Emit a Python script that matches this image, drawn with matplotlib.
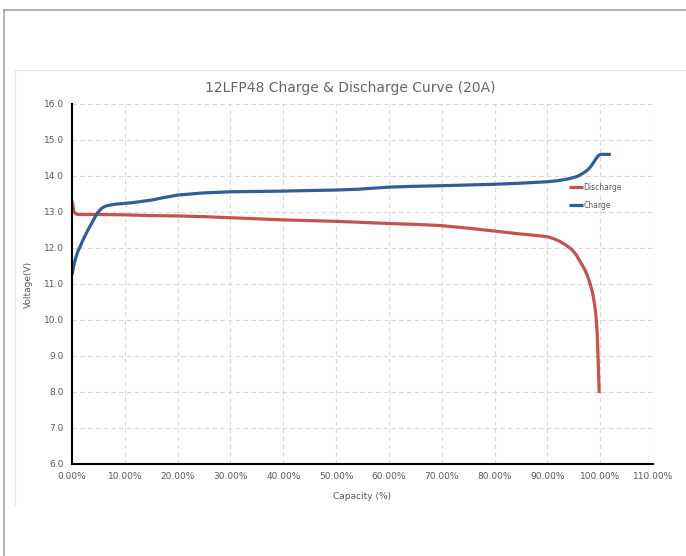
import matplotlib.pyplot as plt
from matplotlib.lines import Line2D
from matplotlib.ticker import FuncFormatter

# capacity (fraction) / voltage
charge_cap = [0.0, 0.003, 0.007, 0.011, 0.015, 0.02, 0.025, 0.03, 0.035, 0.04, 0.047,
              0.053, 0.058, 0.063, 0.068, 0.075, 0.085, 0.10, 0.115, 0.13, 0.15, 0.17,
              0.20, 0.25, 0.30, 0.40, 0.50, 0.54, 0.57, 0.60, 0.64, 0.70, 0.80, 0.85,
              0.90, 0.92, 0.94, 0.955, 0.962, 0.97, 0.977, 0.983, 0.987, 0.992, 0.996,
              0.999, 1.002, 1.02]
charge_v = [11.25, 11.5, 11.72, 11.9, 12.03, 12.2, 12.35, 12.5, 12.63, 12.76, 12.95,
            13.06, 13.12, 13.16, 13.18, 13.2, 13.22, 13.24, 13.26, 13.29, 13.33, 13.39,
            13.47, 13.53, 13.56, 13.58, 13.61, 13.63, 13.66, 13.69, 13.71, 13.73, 13.77, 13.8,
            13.84, 13.87, 13.92, 13.98, 14.03, 14.1, 14.18, 14.28, 14.37, 14.48, 14.56,
            14.59, 14.6, 14.6]

discharge_cap = [0.0, 0.001, 0.002, 0.003, 0.004, 0.006, 0.009, 0.013, 0.02, 0.05, 0.10,
                 0.15, 0.20, 0.25, 0.30, 0.40, 0.50, 0.60, 0.66, 0.70, 0.75, 0.80, 0.83,
                 0.848, 0.87, 0.89, 0.90, 0.91, 0.924, 0.935, 0.946, 0.955, 0.962, 0.97,
                 0.976, 0.981, 0.985, 0.988, 0.99, 0.992, 0.994, 0.995, 0.996, 0.997,
                 0.998]
discharge_v = [13.3, 13.25, 13.15, 13.06, 13.0, 12.96, 12.94, 12.93, 12.93, 12.93, 12.92,
               12.9, 12.89, 12.87, 12.84, 12.78, 12.74, 12.68, 12.65, 12.62, 12.55, 12.47,
               12.42, 12.39, 12.36, 12.33, 12.31, 12.27, 12.18, 12.08, 11.96, 11.8, 11.62,
               11.42, 11.22, 11.0, 10.78, 10.55, 10.35, 10.1, 9.7, 9.3, 8.9, 8.4, 7.97]

x_ticks = [0.0, 0.1, 0.2, 0.3, 0.4, 0.5, 0.6, 0.7, 0.8, 0.9, 1.0, 1.1]
y_ticks = [6.0, 7.0, 8.0, 9.0, 10.0, 11.0, 12.0, 13.0, 14.0, 15.0, 16.0]

RED = "#C55250"
BLUE = "#2F5F97"
GRAY = "#595959"

fig = plt.figure(figsize=(6.86, 5.56), dpi=100)
ax = fig.add_axes([0.105, 0.1655, 0.847, 0.6475])

ax.plot(discharge_cap, discharge_v, color=RED, lw=2.3, label="Discharge",
        solid_capstyle="butt", solid_joinstyle="round")
ax.plot(charge_cap, charge_v, color=BLUE, lw=2.3, label="Charge",
        solid_capstyle="butt", solid_joinstyle="round")

ax.set_xlim(0, 1.1)
ax.set_ylim(6, 16)
ax.set_xticks(x_ticks)
ax.set_yticks(y_ticks)
ax.xaxis.set_major_formatter(FuncFormatter(lambda v, p: "%.2f%%" % (v * 100)))
ax.yaxis.set_major_formatter(FuncFormatter(lambda v, p: "%.1f" % v))
ax.tick_params(length=0, labelsize=6.5, labelcolor=GRAY, pad=6)

ax.grid(True, color="#D9D9D9", ls=(0, (4, 3)), lw=0.8)
ax.set_axisbelow(True)
for s in ["top", "right"]:
    ax.spines[s].set_visible(False)
for s in ["left", "bottom"]:
    ax.spines[s].set_linewidth(1.5)
    ax.spines[s].set_color("black")
    ax.spines[s].set_zorder(3)

ax.set_xlabel("Capacity (%)", fontsize=6.5, color=GRAY, labelpad=8)
ax.set_ylabel("Voltage(V)", fontsize=6.5, color=GRAY, labelpad=8)
fig.text(0.51, 0.842, "12LFP48 Charge & Discharge Curve (20A)", fontsize=10,
         color="#666666", ha="center", va="center")

ax.legend(loc="upper left", bbox_to_anchor=(0.85, 0.79), frameon=False, fontsize=5.5,
          labelcolor=GRAY, handlelength=1.8, handletextpad=0.1, labelspacing=1.2,
          borderaxespad=0)

# outer and inner frames of the screenshot
fig.add_artist(Line2D([4 / 686, 4 / 686], [0, 1 - 10 / 556], transform=fig.transFigure,
                      color="#A6A6A6", lw=1.2))
fig.add_artist(Line2D([4 / 686, 1], [1 - 10 / 556, 1 - 10 / 556], transform=fig.transFigure,
                      color="#A6A6A6", lw=1.2))
fig.add_artist(Line2D([15 / 686, 15 / 686], [1 - 505 / 556, 1 - 70 / 556], transform=fig.transFigure,
                      color="#E6E6E6", lw=0.8))
fig.add_artist(Line2D([15 / 686, 1], [1 - 70 / 556, 1 - 70 / 556], transform=fig.transFigure,
                      color="#E6E6E6", lw=0.8))

fig.savefig("out.png", dpi=100)
